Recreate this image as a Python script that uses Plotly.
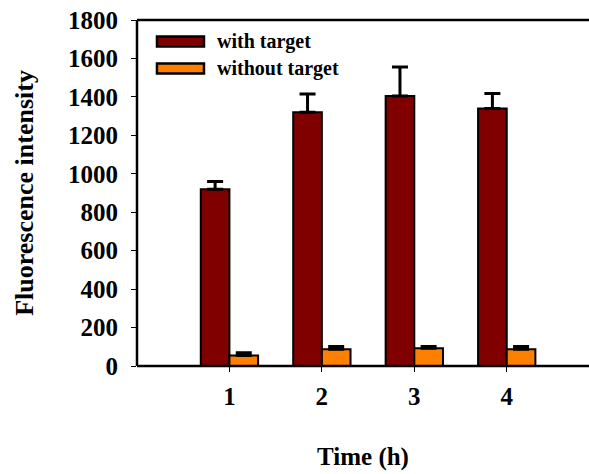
import plotly.graph_objects as go

times = [1, 2, 3, 4]
tick_labels = ["1", "2", "3", "4"]
with_target = [920, 1320, 1405, 1340]
with_target_err = [40, 95, 150, 78]
without_target = [54, 87, 92, 87]
without_target_err = [15, 15, 10, 15]
series_names = ["with target", "without target"]
series_colors = ["#800000", "#FF8000"]

FONT = "Liberation Serif, Times New Roman, serif"

def f(size):
    return dict(family=FONT, size=size, color="black", weight="bold")

fig = go.Figure()
for name, vals, errs, col in zip(series_names, [with_target, without_target],
                                 [with_target_err, without_target_err], series_colors):
    fig.add_trace(go.Bar(
        x=times, y=vals, name=name, showlegend=False,
        marker=dict(color=col, line=dict(color="black", width=2)),
        error_y=dict(type="data", array=errs, arrayminus=[0]*len(errs),
                     symmetric=False, color="black", thickness=3, width=8),
    ))

# mask the right edge (original figure is cropped there, no right frame line)
fig.add_shape(type="rect", xref="paper", yref="paper", x0=0.985, x1=1.0, y0=-0.01, y1=1.01,
              fillcolor="white", line=dict(width=0), layer="above")
# frame lines: left, bottom, top
fig.add_shape(type="line", xref="paper", yref="paper", x0=0, x1=1, y0=1, y1=1,
              line=dict(color="black", width=2.5), layer="above")
fig.add_shape(type="line", xref="paper", yref="paper", x0=0, x1=1, y0=0, y1=0,
              line=dict(color="black", width=2.5), layer="above")
fig.add_shape(type="line", xref="paper", yref="paper", x0=0, x1=0, y0=0, y1=1,
              line=dict(color="black", width=2.5), layer="above")

# legend (manual, wide swatches like the original)
leg_rows = [(0.9234, 0.9523, 0.9379), (0.8454, 0.8743, 0.8598)]
for (y0, y1, yc), name, col in zip(leg_rows, series_names, series_colors):
    fig.add_shape(type="rect", xref="paper", yref="paper",
                  x0=0.0442, x1=0.1482, y0=y0, y1=y1,
                  fillcolor=col, line=dict(color="black", width=2.5))
    fig.add_annotation(xref="paper", yref="paper", x=0.1726, y=yc,
                       xanchor="left", yanchor="middle", text=name,
                       showarrow=False, font=f(20))

fig.update_layout(
    width=589, height=474,
    margin=dict(l=137, r=0, t=20, b=108, autoexpand=False),
    paper_bgcolor="white", plot_bgcolor="white",
    barmode="group", bargap=0.38, bargroupgap=0,
    font=f(25),
    xaxis=dict(range=[0, 4.89], tickvals=times, ticktext=tick_labels,
               showline=False, mirror=False,
               ticks="outside", ticklen=5, tickwidth=1, tickcolor="black",
               showgrid=False, zeroline=False,
               tickfont=f(25), ticklabelstandoff=3,
               title=dict(text="Time (h)", font=f(25), standoff=38)),
    yaxis=dict(range=[0, 1800], dtick=200,
               showline=False, mirror=False,
               ticks="outside", ticklen=5, tickwidth=1, tickcolor="black",
               showgrid=False, zeroline=False,
               tickfont=f(25), ticklabelstandoff=8,
               title=dict(text="Fluorescence intensity", font=f(26), standoff=26)),
)

fig.write_html("out.html")
